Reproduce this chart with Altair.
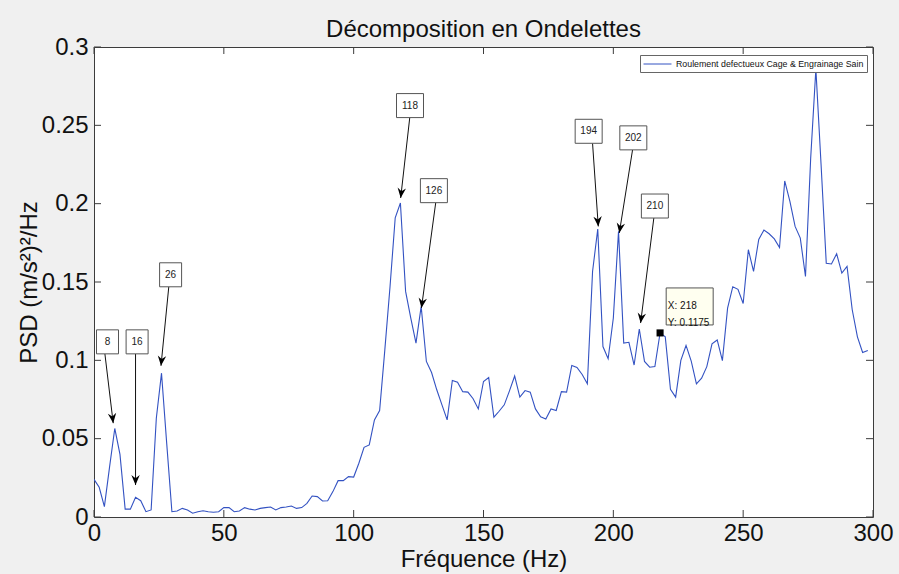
import math
import altair as alt
import pandas as pd

# ---------------- data ----------------
freq = list(range(0, 300, 2))
psd = [
    0.024, 0.019, 0.0066, 0.032, 0.0565, 0.040, 0.005, 0.005, 0.0126, 0.0104,
    0.0034, 0.0045, 0.063, 0.0918, 0.047, 0.0034, 0.0038, 0.0055, 0.0045, 0.0024,
    0.0034, 0.004, 0.0034, 0.003, 0.0034, 0.006, 0.006, 0.0034, 0.0038, 0.006,
    0.005, 0.0045, 0.0055, 0.006, 0.0064, 0.0045, 0.006, 0.0064, 0.007, 0.0055,
    0.006, 0.0087, 0.0134, 0.013, 0.0102, 0.0104, 0.0162, 0.0232, 0.0232, 0.0258,
    0.0255, 0.0343, 0.0445, 0.046, 0.062, 0.068, 0.1067, 0.147, 0.191, 0.2004,
    0.144, 0.127, 0.111, 0.1344, 0.0993, 0.0922, 0.0812, 0.0716, 0.062, 0.0871,
    0.086, 0.080, 0.0797, 0.0755, 0.069, 0.0865, 0.089, 0.0637, 0.0675, 0.0716,
    0.0805, 0.090, 0.0765, 0.0807, 0.0797, 0.069, 0.064, 0.0626, 0.069, 0.068,
    0.080, 0.0797, 0.0967, 0.0955, 0.091, 0.085, 0.1567, 0.1838, 0.1088, 0.101,
    0.127, 0.1823, 0.111, 0.1115, 0.097, 0.120, 0.0993, 0.0956, 0.096, 0.1175,
    0.115, 0.0815, 0.0765, 0.100, 0.1095, 0.0995, 0.085, 0.0886, 0.096, 0.1105,
    0.113, 0.0998, 0.1333, 0.147, 0.1453, 0.1363, 0.1706, 0.1568, 0.1772, 0.1832,
    0.1808, 0.1775, 0.172, 0.2145, 0.2015, 0.1855, 0.178, 0.1535, 0.229, 0.286,
    0.225, 0.162, 0.1615, 0.168, 0.1557, 0.160, 0.1323, 0.115, 0.105, 0.1063,
]
series_name = "Roulement defectueux Cage & Engrainage Sain"

x_ticks = [0, 50, 100, 150, 200, 250, 300]
y_ticks = [0, 0.05, 0.1, 0.15, 0.2, 0.25, 0.3]

# peak annotations (label boxes with arrows)
peak_labels = ["8", "16", "26", "118", "126", "194", "202", "210"]
box_f = [5.2, 16.6, 29.5, 121.7, 130.9, 190.5, 207.7, 216.0]
box_v = [0.1118, 0.1118, 0.1546, 0.2626, 0.2083, 0.2462, 0.2420, 0.1985]
arrow_start_f = [4.2, 16.0, 28.8, 121.6, 131.6, 192.0, 207.4, 215.6]
tip_f = [7.4, 16.0, 25.8, 118.1, 126.1, 194.2, 202.3, 210.5]
tip_v = [0.0599, 0.0204, 0.0965, 0.2036, 0.1334, 0.1855, 0.1813, 0.1238]

# data tip
dt_x = 218
dt_y = 0.1175
dt_box_f = 229.4
dt_box_v = 0.1344
dt_text_f = 221.0

# ---------------- layout ----------------
W, H = 779, 470
X_MAX, Y_MAX = 300, 0.3
FONT = "Liberation Sans"
AXC = "#3c3c3c"
LINE_C = "#3352c2"
BOX_H = 24

px_x = W / X_MAX
px_y = H / Y_MAX

df = pd.DataFrame({"f": freq, "psd": psd, "serie": series_name})

ann = pd.DataFrame({
    "label": peak_labels,
    "bx": box_f,
    "by": box_v,
    "sx": arrow_start_f,
    "sy": [v - (BOX_H / 2) / px_y for v in box_v],
    "tx": tip_f,
    "ty": tip_v,
})
ann["angle"] = [
    (math.degrees(math.atan2(-(tx - sx) * px_x, (sy - ty) * px_y)) + 360) % 360
    for sx, sy, tx, ty in zip(ann.sx, ann.sy, ann.tx, ann.ty)
]
ann["wide"] = ann.label.str.len() >= 3

x_scale = alt.Scale(domain=[0, X_MAX], nice=False, zero=False)
y_scale = alt.Scale(domain=[0, Y_MAX], nice=False)
x_axis = alt.Axis(values=x_ticks, title="Fréquence (Hz)", format="d", labelFlush=False)
y_axis = alt.Axis(values=y_ticks, title="PSD (m/s²)²/Hz", format="~g", labelFlush=False)


def X(field):
    return alt.X(field, scale=x_scale, axis=x_axis)


def Y(field):
    return alt.Y(field, scale=y_scale, axis=y_axis)


line = alt.Chart(df).mark_line(strokeWidth=1.1, clip=True).encode(
    x=X("f:Q"),
    y=Y("psd:Q"),
    color=alt.Color("serie:N", scale=alt.Scale(range=[LINE_C]),
                    legend=alt.Legend(
                        title=None, orient="none", legendX=546, legendY=8,
                        symbolType="M-1,0 L4.09,0", symbolSize=121,
                        symbolStrokeWidth=1, labelLimit=0,
                        labelFont=FONT, labelFontSize=8.8, labelColor="#111",
                        fillColor="white", strokeColor="#666", padding=3,
                        labelOffset=21, cornerRadius=0)),
)

tick_x_df = pd.DataFrame({"t": x_ticks})
tick_y_df = pd.DataFrame({"t": y_ticks})
TL = 7
ticks = [
    alt.Chart(tick_x_df).mark_rule(color=AXC, strokeWidth=1).encode(
        x=X("t:Q"), y=alt.value(H), y2=alt.value(H - TL)),
    alt.Chart(tick_x_df).mark_rule(color=AXC, strokeWidth=1).encode(
        x=X("t:Q"), y=alt.value(0), y2=alt.value(TL)),
    alt.Chart(tick_y_df).mark_rule(color=AXC, strokeWidth=1).encode(
        y=Y("t:Q"), x=alt.value(0), x2=alt.value(TL)),
    alt.Chart(tick_y_df).mark_rule(color=AXC, strokeWidth=1).encode(
        y=Y("t:Q"), x=alt.value(W), x2=alt.value(W - TL)),
]

arrows = alt.Chart(ann).mark_rule(color="#111", strokeWidth=1).encode(
    x=X("sx:Q"), y=Y("sy:Q"), x2="tx:Q", y2="ty:Q",
)
head_path = "M0,0 L-0.42,-1 L0,-0.68 L0.42,-1 Z"
heads = alt.Chart(ann).mark_point(shape=head_path, filled=True, color="#000",
                                  opacity=1, size=400, strokeWidth=0.5).encode(
    x=X("tx:Q"), y=Y("ty:Q"),
    angle=alt.Angle("angle:Q", scale=None),
)

boxes_narrow = alt.Chart(ann).transform_filter("!datum.wide").mark_rect(
    width=22, height=BOX_H, fill="white", stroke="#555", strokeWidth=1).encode(
    x=X("bx:Q"), y=Y("by:Q"),
)
boxes_wide = alt.Chart(ann).transform_filter("datum.wide").mark_rect(
    width=27, height=BOX_H, fill="white", stroke="#555", strokeWidth=1).encode(
    x=X("bx:Q"), y=Y("by:Q"),
)
box_text = alt.Chart(ann).mark_text(font=FONT, fontSize=10, color="#222",
                                    baseline="middle").encode(
    x=X("bx:Q"), y=Y("by:Q"), text="label:N",
)

dt_df = pd.DataFrame({"x": [dt_x], "y": [dt_y], "bx": [dt_box_f], "by": [dt_box_v],
                      "tf": [dt_text_f]})
dt_df["txt"] = ["X: %d\nY: %.4f" % (dt_x, dt_y)]
dt_box = alt.Chart(dt_df).mark_rect(width=47, height=37, fill="#fffff0",
                                    stroke="#555", strokeWidth=1).encode(
    x=X("bx:Q"), y=Y("by:Q"),
)
dt_text = alt.Chart(dt_df).mark_text(font=FONT, fontSize=10, color="#111",
                                     align="left", baseline="middle",
                                     lineBreak="\n", lineHeight=17).encode(
    x=X("tf:Q"), y=Y("by:Q"), text="txt:N",
)
dt_marker = alt.Chart(dt_df).mark_point(shape="square", filled=True, color="#000",
                                        opacity=1, size=50).encode(
    x=X("x:Q"), y=Y("y:Q"),
)

chart = alt.layer(
    line, *ticks, arrows, heads, boxes_narrow, boxes_wide, box_text,
    dt_box, dt_text, dt_marker,
).properties(
    width=W, height=H,
    title=alt.TitleParams("Décomposition en Ondelettes", font=FONT, fontSize=24,
                          fontWeight="normal", color="#111", offset=-7),
    autosize=alt.AutoSizeParams(type="none"),
    padding={"left": 94, "top": 47, "right": 26, "bottom": 57},
).configure(
    background="#f0f0f0",
).configure_view(
    fill="white", stroke=AXC, strokeWidth=1,
).configure_axis(
    domain=False, ticks=False, grid=False,
    labelFont=FONT, labelFontSize=24, labelColor="#111",
    titleFont=FONT, titleFontSize=24, titleFontWeight="normal", titleColor="#111",
).configure_axisX(
    labelPadding=4, titlePadding=2,
).configure_axisY(
    labelPadding=6, titlePadding=0,
)

chart.save("out.html", embed_options={"renderer": "svg", "actions": False})
